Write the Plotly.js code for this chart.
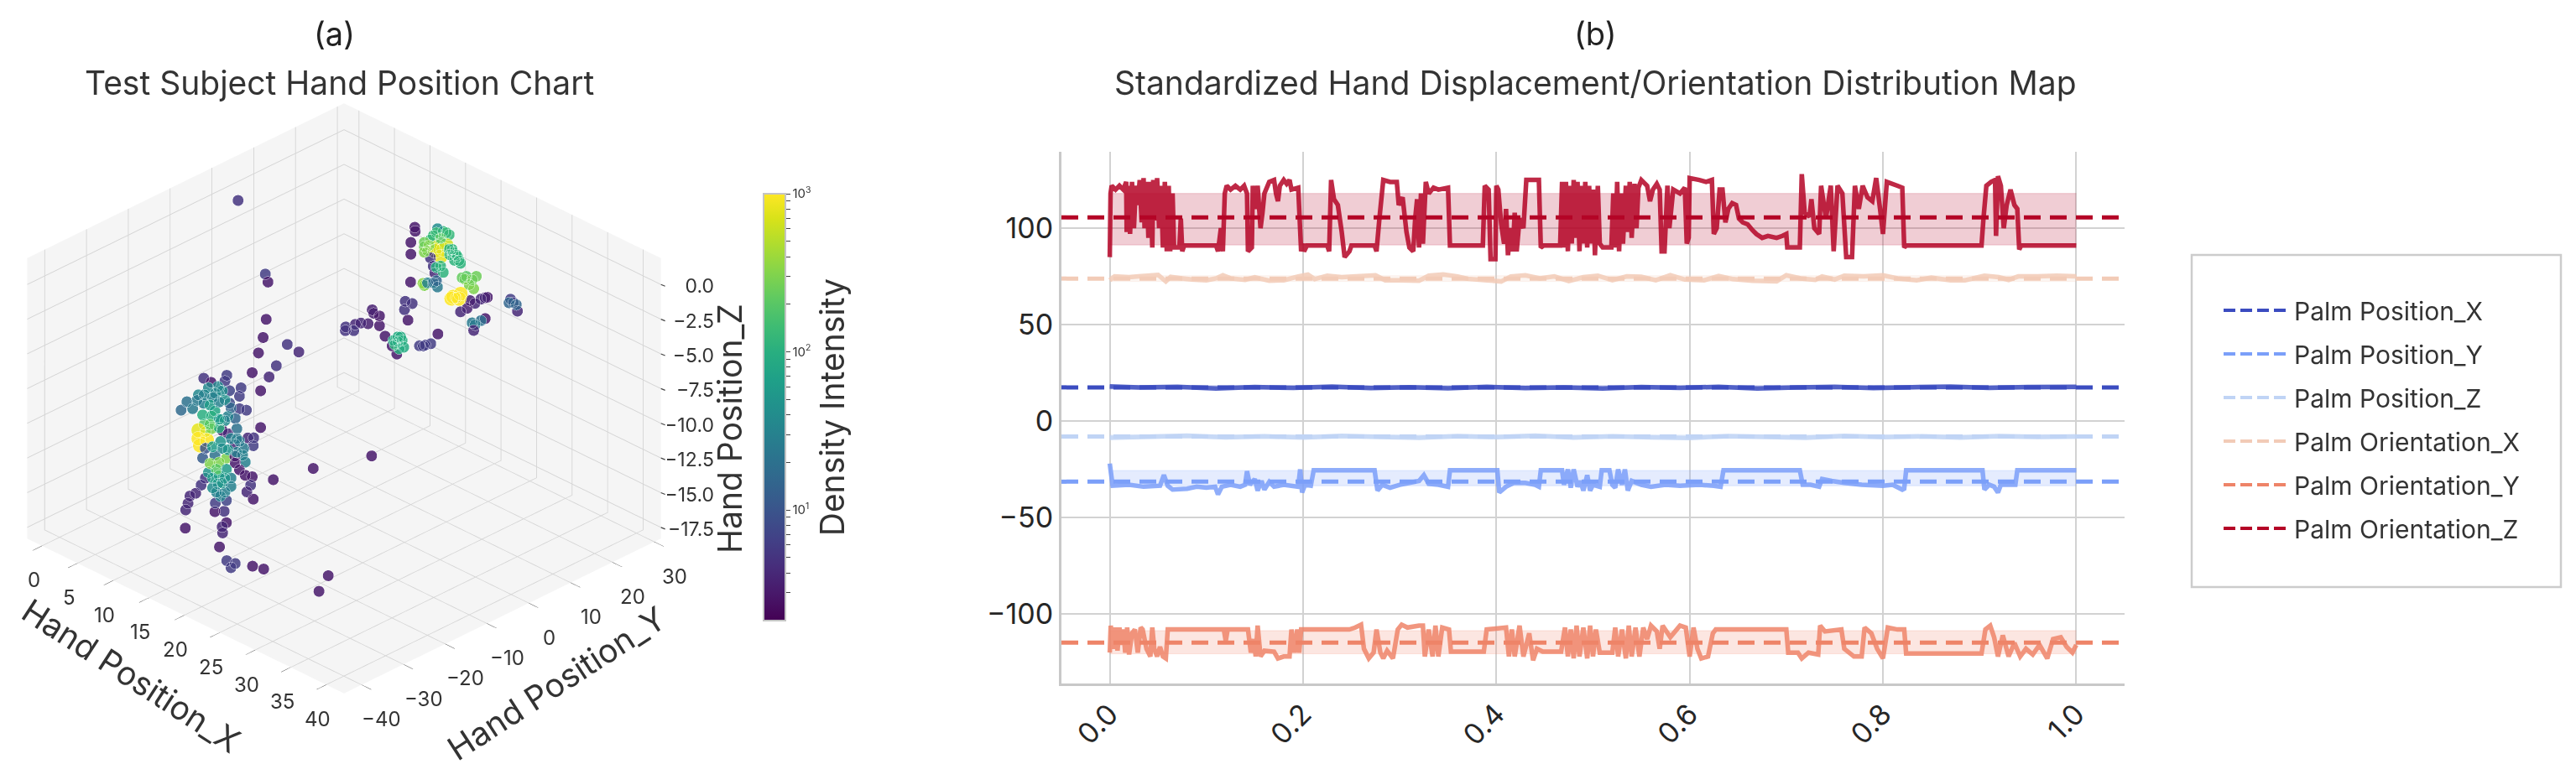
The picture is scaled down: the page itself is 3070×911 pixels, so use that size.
<!DOCTYPE html>
<html><head><meta charset="utf-8">
<script src="https://cdn.plot.ly/plotly-3.0.1.min.js"></script>
<style>html,body{margin:0;padding:0;background:#fff}#c{width:3070px;height:911px}</style></head>
<body><div id="c"></div>
<script>
// ---------- panel (a): [x, y, z, density]
const cloudLeft = [
[18.2,-24.9,-4.1,3],[19.4,-22.9,-4.4,4],[19.9,-22.0,-3.6,5],[18.8,-23.9,-5.4,3],[18.8,-23.9,-8.05,3],
[26.6,-10.6,-10.1,3],[22.5,-17.6,-11.0,3],[19.7,-22.4,-11.8,3],[18.2,-24.9,-11.6,3],[17.7,-25.7,-11.5,3],
[18.1,-25.1,-12.2,5],[17.8,-25.5,-12.7,4],[18.3,-24.8,-13.2,3],[16.1,-28.4,-15.65,4],[16.4,-28.0,-14.9,3],
[16.1,-28.5,-15.2,4],[16.2,-28.2,-14.1,5],[15.6,-29.4,-14.1,3],[15.6,-29.3,-13.5,6],[16.4,-28.0,-13.3,7],
[13.5,-32.9,-15.3,3],[13.5,-32.8,-14.0,4],[13.7,-32.6,-13.5,4],[13.8,-32.3,-13.0,4],[14.2,-31.6,-12.8,4],
[14.6,-31.0,-12.2,5],[14.9,-30.5,-11.7,5],[14.8,-30.7,-4.5,5],[15.3,-29.8,-4.8,3],[16.4,-27.9,-4.3,6],
[16.3,-28.2,-4.7,6],[17.4,-26.2,-5.2,6],[16.6,-27.6,-5.4,7],[17.3,-26.4,-5.8,6],[13.6,-32.7,-6.2,20],
[13.2,-33.4,-6.8,17],[14.0,-32.0,-6.7,25],[14.4,-31.3,-5.7,35],[14.8,-30.6,-5.7,30],[15.6,-29.3,-5.6,35],
[16.1,-28.5,-5.4,40],[14.8,-30.7,-6.3,30],[15.4,-29.6,-5.9,30],[16.6,-27.6,-6.3,8],[17.3,-26.4,-6.7,6],
[17.8,-25.6,-6.8,6],[15.6,-29.4,-6.85,80],[15.3,-29.7,-7.25,100],[16.3,-28.2,-7.55,40],[17.0,-26.9,-7.4,15],
[17.1,-26.7,-8.15,20],[14.8,-30.6,-7.85,200],[15.3,-29.7,-8.15,300],[14.9,-30.4,-8.35,300],[14.4,-31.3,-8.25,800],
[14.4,-31.3,-8.85,1000],[14.5,-31.1,-9.35,1000],[15.0,-30.3,-8.95,1000],[16.1,-28.5,-8.25,3],[16.5,-27.8,-8.5,4],
[17.0,-27.0,-9.25,4],[17.9,-25.4,-8.8,4],[18.3,-24.7,-8.8,5],[18.3,-24.8,-9.35,6],[16.0,-28.7,-9.05,50],
[16.1,-28.5,-9.55,40],[17.6,-25.9,-9.55,25],[17.5,-26.0,-10.05,30],[17.7,-25.7,-10.55,30],[14.9,-30.5,-9.55,10],
[14.7,-30.8,-10.25,12],[15.6,-29.4,-10.05,20],[16.4,-28.0,-10.25,300],[15.9,-28.9,-10.55,300],[17.0,-27.0,-10.1,3],
[17.0,-26.9,-10.6,3],[17.3,-26.4,-11.1,3],[15.1,-30.1,-11.3,50],[15.9,-28.9,-11.5,80],[16.7,-27.4,-11.7,30],
[15.8,-29.0,-12.1,50],[16.3,-28.2,-11.7,50],[15.7,-29.2,-12.7,30],[16.3,-28.2,-12.7,30],[17.1,-26.7,-8.85,25],
[16.0,-28.7,-7.45,40],[15.2,-29.9,-6.45,60],[16.3,-28.2,-6.05,45],
[30.2,-27.1,-15.4,3],[29.6,-28.3,-16.5,3],[25.7,-34.9,-14.9,3],[24.9,-36.2,-14.7,3],[23.7,-38.3,-14.5,6],
[23.4,-38.8,-14.8,6],[23.1,-39.3,-14.3,6],[22.6,-40.2,-13.3,3],
[15.1,-30.1,-5.2,35],[15.8,-29.0,-5.1,35],[14.3,-31.5,-6.1,25],[15.9,-28.9,-6.2,30],[16.7,-27.4,-6.65,15],
[16.5,-27.8,-7.25,30],[15.9,-28.9,-8.05,100],[16.7,-27.4,-8.85,30],[17.3,-26.4,-9.05,25],[15.4,-29.6,-9.45,60],
[16.5,-27.8,-9.65,50],[17.1,-26.7,-9.85,30],[15.2,-29.9,-10.65,300],[15.7,-29.2,-11.05,200],[16.4,-28,-11.05,60],
[15.4,-29.6,-11.7,60],[16.1,-28.5,-12.05,50],[16.7,-27.4,-12.3,30],[15.4,-29.6,-12.4,40],[15.96,-28.7,-13,30],
[14.7,-30.8,-7.15,100],[15.9,-28.9,-7.45,60],[15.2,-29.9,-7.85,200]
];
const cloudLink = [
[3.8,-3.8,1.6,5],[12.4,-11.9,-0.36,6],[12.6,-11.6,-0.93,3],[14.7,-15.6,-2.5,3],[14.5,-16,-3.8,3],[14.2,-16.6,-4.9,3],[16.2,-13.1,-4.3,5],[17,-11.7,-4.85,4]
];
const cloudRight = [
[18.5,13.5,0.8,3],[18.5,13.6,0.5,3],[18.2,13.05,-0.3,3],[18.2,13.05,-1.15,3],[18.2,13.0,-3.15,3],
[15.5,8.4,-5.15,3.5],[15.6,8.6,-5.4,3.5],[16.0,9.3,-5.6,3],[15.2,7.9,-6.15,3.5],[14.7,7.05,-6.1,4],
[14.3,6.4,-6.2,4],[13.6,5.3,-6.4,5],[13.6,5.2,-6.65,5],[14.2,6.2,-6.65,5],[16.0,9.3,-6.3,3],
[16.4,9.95,-7.05,3],[16.9,10.8,-7.75,3],[17.2,11.4,-8.35,3],[20.1,16.3,-6.9,3],[17.8,12.4,-4.55,5],
[18.3,13.2,-4.7,5],[17.75,12.3,-5.15,5],[18.0,12.7,-5.9,3],[17.3,11.5,-7.1,90],[17.4,11.6,-7.95,100],
[17.1,11.1,-7.65,110],[17.7,12.2,-7.85,90],[17.0,10.9,-7.35,90],[17.5,11.8,-7.1,90],[18.8,14.1,-7.75,6],
[19.2,14.8,-7.7,6],[19.6,15.45,-7.6,6],[19.1,14.5,-7.75,6],[25.2,25,-4.4,6],[25.4,25.35,-4.65,6],
[25.7,25.8,-5.25,4],[25.1,24.8,-4.65,15],[25.6,25.7,-4.8,15],[23.6,22.2,-4.25,3],[23.4,22,-4.3,3.5],
[23.1,21.5,-4.4,4],[22.7,20.75,-4.7,4],[22.35,20.15,-4.5,3.5],[22.15,19.8,-5.05,3.5],[21.7,19,-5.3,4],
[21.35,18.5,-4.3,3],[23.4,22,-5.8,3],[23.1,21.5,-5.95,20],[22.5,20.4,-6.1,25],[22.7,20.75,-6.25,25],
[22.6,20.6,-6.65,4],[21.2,18.1,-4.2,1000],[21.7,19,-4.0,1000],[21.05,17.9,-4.35,1000],[21.6,18.8,-4.35,1000],
[22.8,20.9,-2.75,250],[22.1,19.7,-2.75,200],[22.3,20.05,-3.35,300],[22,19.5,-2.95,300],[22.6,20.6,-3.65,300],
[20.9,17.65,0.25,120],[20.5,16.9,0.5,120],[20.1,16.2,0.7,40],[19.8,15.7,0.2,130],[19.6,15.35,-0.1,130],
[20,16.1,0.4,130],[19.15,14.65,-0.6,250],[19.4,15,-0.9,250],[19.15,14.65,-0.3,250],[20.1,16.2,-0.6,600],
[20.5,16.9,-0.8,900],[19.9,15.9,-0.9,700],[20.3,16.6,-1.3,800],[20.7,17.3,-0.5,600],[21.1,18,-0.8,110],
[21.2,18.1,-1.0,110],[21.5,18.6,-1.3,110],[21.7,19,-1.8,110],[20.9,17.75,-1.2,110],[21.25,18.3,-1.6,110],
[19.6,15.35,-1.4,5],[19.8,15.7,-2.0,5],[19.9,15.9,-2.5,4],[20.5,16.9,-2.45,110],[20,16.1,-2.1,100],
[20.3,16.6,-2.0,110],[19.15,14.65,-3.4,300],[19.05,14.5,-3.25,350],[19.4,15,-3.2,30],[19.8,15.7,-3.2,20],
[20.1,16.2,-3.5,25],[20,16.1,-3.05,15],
[20.7,17.3,0.4,130],[20.3,16.6,0,200],[19.5,15.2,-0.5,300],[20.9,17.6,-0.8,110],[21.4,18.5,-1.2,110],
[21.6,18.8,-1.6,110],[19.15,14.65,-1.0,300],[22.5,20.4,-3.0,250],[21.8,19.2,-2.85,230],[17.3,11.5,-7.45,95],[17.6,12,-7.35,95]
];
const densityTicks = [3,4,5,6,7,8,9,10,20,30,40,50,60,70,80,90,100,200,300,400,500,600,700,800,900,1000];
const densityLabels = {10:'10<sup>1</sup>',100:'10<sup>2</sup>',1000:'10<sup>3</sup>'};
const xTicks3d = [0,5,10,15,20,25,30,35,40];
const yTicks3d = [-40,-30,-20,-10,0,10,20,30];
const zTicks3d = [0,-2.5,-5,-7.5,-10,-12.5,-15,-17.5];
const xRange3d = [-2.1,42.5], yRange3d = [-44.2,31.6], zRange3d = [-18.3,1.9];

// ---------- panel (b)
const seriesNames = ['Palm Position_X','Palm Position_Y','Palm Position_Z','Palm Orientation_X','Palm Orientation_Y','Palm Orientation_Z'];
const seriesColors = ['#3b4cc0','#7b9ff9','#c0d4f5','#f2cbb7','#ee8468','#b40426'];
const seriesMeans = [17.5,-31.4,-8,73.9,-114.8,105.6];
const bandLow = [16.6,-33.5,-9,72.4,-120.6,91.3];
const bandHigh = [18.4,-25.6,-7,75.4,-108.6,118];
const xExtent = [-0.05,1.05];
const xSpan = [0,1];

const posX = [[0,18],[.03,17.4],[.07,17.8],[.11,16.9],[.15,17.7],[.19,17.2],[.23,17.9],[.27,17.1],[.31,17.6],[.35,17],[.39,17.8],[.43,17.1],[.47,17.5],[.51,16.9],[.55,17.7],[.59,17.2],[.63,17.8],[.67,16.9],[.71,17.4],[.75,17.8],[.79,17.1],[.83,17.6],[.87,17.9],[.91,17.2],[.95,17.7],[1,17.8]];
const posZ = [[0,-8.6],[.04,-8.1],[.08,-7.6],[.12,-8.4],[.16,-7.9],[.2,-8.5],[.24,-7.7],[.28,-8.2],[.32,-8.6],[.36,-7.8],[.4,-8.3],[.44,-7.6],[.48,-8.5],[.52,-7.9],[.56,-8.4],[.6,-8.7],[.64,-7.8],[.68,-8.2],[.72,-8.6],[.76,-7.7],[.8,-8.3],[.84,-7.9],[.88,-8.5],[.92,-7.8],[.96,-8.2],[1,-8]];
const oriX = [[0,73],[.005,75],[.02,74.6],[.03,75],[.05,75.8],[.058,72.4],[.063,74.8],[.075,74],[.085,73.4],[.1,73],[.11,74],[.117,75.6],[.125,74],[.14,73.2],[.15,74.6],[.165,72.8],[.18,73],[.195,75],[.205,76],[.212,73.6],[.225,75.4],[.24,74.6],[.255,75],[.275,75.6],[.285,73],[.3,73],[.32,72.8],[.33,75.4],[.345,76],[.36,75],[.37,73.8],[.39,73],[.405,72.4],[.415,75],[.43,75.6],[.445,74],[.46,75],[.475,72.6],[.49,74.6],[.505,75.4],[.52,73],[.535,75],[.55,74.8],[.565,73],[.58,75.6],[.595,73.4],[.615,73],[.63,75.2],[.645,73.6],[.665,72.8],[.69,72.5],[.7,75.6],[.715,74],[.73,73.2],[.737,75],[.75,73.4],[.76,75.4],[.78,75],[.8,75.6],[.815,74],[.835,73],[.85,74.4],[.87,73],[.885,73],[.905,75.4],[.92,74.6],[.93,73.2],[.94,75],[.96,75],[.98,75.4],[1,75]];

const posY = [[0,-22],[.001,-26],[.003,-33.5],[.02,-33],[.035,-34],[.052,-33.5],[.056,-28],[.06,-33.5],[.065,-35.5],[.08,-35],[.09,-34],[.1,-34.5],[.109,-34],[.112,-38],[.116,-34],[.125,-33],[.135,-34],[.14,-33],[.142,-26],[.145,-33],[.15,-30],[.153,-36],[.157,-31],[.16,-35.5],[.165,-31.5],[.17,-34],[.18,-33],[.195,-34],[.197,-25],[.199,-37],[.202,-33],[.208,-33.5],[.211,-25.5],[.274,-25.5],[.277,-36],[.282,-33],[.29,-34.5],[.3,-33],[.31,-32],[.32,-31],[.325,-28],[.33,-32.5],[.34,-33],[.35,-34],[.352,-25.5],[.401,-25.5],[.403,-37],[.41,-34],[.418,-32],[.43,-32],[.44,-33],[.444,-34],[.446,-25.5],[.468,-25.5],[.47,-33],[.474,-25],[.477,-34.5],[.48,-25],[.484,-34],[.487,-31],[.49,-36],[.494,-28],[.497,-36],[.5,-33],[.507,-34],[.509,-25.5],[.517,-25.5],[.52,-33],[.523,-34.5],[.526,-25],[.53,-33],[.533,-25],[.536,-36],[.54,-31],[.55,-33],[.56,-34],[.575,-33],[.59,-33.5],[.61,-33],[.625,-33.5],[.632,-34],[.635,-25.5],[.714,-25.5],[.717,-33],[.725,-33],[.734,-34],[.737,-30],[.747,-31],[.76,-32],[.778,-33],[.8,-33.5],[.81,-33],[.82,-35.5],[.822,-35],[.824,-25.5],[.903,-25.5],[.905,-35.5],[.91,-33],[.915,-34],[.919,-37],[.922,-33],[.937,-33],[.939,-25.5],[1,-25.5]];

const oriY = [[0,-120],[.001,-106],[.004,-118],[.006,-107],[.008,-119],[.01,-107],[.012,-116],[.014,-108],[.016,-120],[.018,-107],[.02,-121],[.023,-110],[.026,-108],[.029,-120],[.032,-107],[.034,-108],[.038,-118],[.042,-122],[.044,-107],[.046,-118],[.049,-122],[.052,-117],[.055,-122],[.058,-123],[.06,-108],[.118,-108],[.12,-114],[.122,-108],[.143,-108],[.146,-120],[.149,-113],[.151,-122],[.153,-106],[.156,-122],[.16,-119],[.17,-119.5],[.174,-123],[.18,-122],[.186,-122],[.188,-108],[.191,-120],[.194,-108],[.196,-120],[.198,-108],[.248,-108],[.254,-107],[.26,-105.5],[.263,-118],[.268,-123],[.273,-120],[.276,-108],[.28,-120],[.283,-123],[.287,-119],[.293,-123],[.298,-108],[.302,-105.5],[.308,-107],[.32,-106],[.324,-106],[.326,-122],[.33,-108],[.334,-122],[.337,-106],[.34,-122],[.344,-107],[.351,-108],[.353,-119.5],[.387,-119.5],[.39,-108],[.41,-107],[.413,-122],[.416,-108],[.419,-122],[.424,-106],[.428,-122],[.434,-110],[.438,-124],[.442,-118],[.448,-119.5],[.467,-119.5],[.471,-107],[.474,-122],[.477,-108],[.48,-123],[.483,-106],[.486,-122],[.49,-107],[.494,-123],[.497,-106],[.5,-122],[.503,-108],[.507,-120],[.52,-120],[.523,-107],[.526,-122],[.53,-108],[.534,-123],[.537,-106],[.54,-122],[.544,-107],[.548,-122],[.552,-107],[.556,-113],[.56,-106],[.566,-109],[.569,-118],[.572,-106],[.58,-112],[.59,-106],[.596,-107],[.6,-122],[.604,-107],[.608,-118],[.612,-123],[.619,-122],[.624,-110],[.627,-108],[.7,-108],[.702,-120],[.712,-120],[.716,-123],[.723,-120],[.733,-121],[.735,-106],[.74,-109],[.757,-108],[.76,-118],[.77,-122],[.778,-122],[.781,-107],[.788,-110],[.794,-118],[.8,-123],[.805,-107],[.815,-108],[.822,-108],[.824,-120.5],[.902,-120.5],[.906,-108],[.911,-106],[.915,-112],[.919,-122],[.924,-111],[.93,-122],[.936,-115],[.942,-122],[.948,-118],[.955,-121],[.962,-116],[.97,-123],[.976,-113],[.984,-112],[.99,-117],[.996,-120],[1,-116]];

const oriZ = [[0,85],[.0008,118],[.002,122],[.006,120],[.01,122],[.014,120],[.017,124],[.0175,98],[.019,122],[.021,97],[.023,124],[.025,100],[.027,122],[.029,112],[.031,125],[.033,103],[.035,126],[.036,100],[.038,124],[.04,95],[.042,124],[.044,90],[.045,125],[.047,104],[.049,126],[.051,100],[.053,122],[.055,90],[.057,124],[.059,88],[.061,122],[.0625,88],[.065,118],[.0665,90],[.072,90],[.0735,105],[.075,88],[.077,91],[.11,91],[.112,88],[.115,100],[.117,88],[.119,118],[.121,122],[.125,120],[.13,122],[.135,120],[.139,122],[.142,118],[.143,88],[.147,90],[.148,122],[.151,110],[.153,122],[.156,100],[.158,108],[.16,118],[.165,124],[.17,125],[.172,118],[.174,114],[.176,122],[.18,125],[.183,123],[.186,125],[.188,120],[.195,121],[.198,88],[.2,92],[.201,88],[.204,91],[.225,91],[.227,88],[.229,125],[.232,115],[.236,112],[.24,98],[.243,85],[.248,88],[.25,91],[.274,91],[.276,88],[.279,105],[.283,125],[.29,124],[.297,124],[.299,112],[.303,116],[.307,98],[.31,90],[.314,88],[.316,105],[.318,115],[.32,90],[.322,118],[.324,92],[.327,124],[.33,118],[.335,121],[.34,120],[.35,121],[.352,91],[.38,91],[.386,91],[.388,122],[.392,120],[.394,84],[.399,84],[.4,122],[.402,120],[.405,102],[.408,92],[.41,110],[.412,86],[.415,100],[.417,88],[.419,108],[.421,88],[.424,105],[.428,100],[.431,125],[.44,125],[.444,125],[.446,90],[.449,91],[.466,91],[.468,124],[.47,90],[.472,124],[.474,88],[.476,122],[.478,92],[.48,125],[.482,95],[.484,124],[.486,88],[.488,122],[.49,92],[.492,124],[.494,90],[.496,122],[.498,92],[.5,120],[.502,86],[.505,122],[.507,92],[.51,90],[.519,90],[.521,118],[.523,90],[.525,124],[.527,88],[.529,118],[.531,92],[.534,122],[.536,98],[.538,124],[.54,95],[.543,123],[.545,100],[.547,121],[.55,125],[.556,122],[.559,114],[.562,120],[.566,123],[.569,120],[.571,88],[.574,88],[.577,122],[.579,100],[.583,120],[.59,118],[.595,121],[.597,92],[.599,95],[.6,126],[.61,125],[.617,124],[.623,125],[.625,97],[.628,100],[.631,120],[.634,120],[.637,103],[.64,110],[.644,113],[.648,112],[.651,105],[.655,103],[.66,102],[.665,99],[.669,97],[.675,95],[.681,96],[.69,95],[.696,96],[.7,97],[.701,90],[.714,90],[.716,128],[.719,108],[.724,106],[.726,115],[.729,100],[.734,97],[.736,122],[.741,105],[.746,122],[.749,88],[.753,122],[.758,118],[.762,85],[.768,85],[.771,122],[.775,110],[.779,122],[.784,116],[.789,114],[.793,126],[.797,110],[.8,97],[.804,124],[.815,122],[.82,121],[.822,90],[.824,91],[.902,91],[.904,105],[.907,122],[.912,124],[.916,125],[.917,96],[.919,127],[.922,122],[.925,100],[.928,112],[.932,120],[.936,112],[.939,110],[.941,89],[.943,91],[1,91]];

const seriesData = [posX,posY,posZ,oriX,oriY,oriZ];
const xTicks = [0,0.2,0.4,0.6,0.8,1.0];
const yTicks = [-100,-50,0,50,100];

function rgba(hex,a){const n=parseInt(hex.slice(1),16);return `rgba(${n>>16},${(n>>8)&255},${n&255},${a})`;}
const W=3070,H=911;
const font='Inter, "Noto Sans", sans-serif';
const pts=cloudLeft.concat(cloudLink,cloudRight);
const traces=[];

traces.push({type:'scatter3d',mode:'markers',scene:'scene',showlegend:false,hoverinfo:'skip',
 x:pts.map(p=>p[0]),y:pts.map(p=>p[1]),z:pts.map(p=>p[2]),
 marker:{size:pts.map(p=>p[3]>=500?20:15.5),opacity:0.85,color:pts.map(p=>Math.log10(p[3])),colorscale:'Viridis',cmin:0.3,cmax:3,
  line:{color:'rgba(225,225,225,0.8)',width:1},
  colorbar:{x:910/W,xanchor:'left',xref:'paper',xpad:0,ypad:0,y:1-231/H,yanchor:'top',yref:'paper',len:509,lenmode:'pixels',thickness:26,thicknessmode:'pixels',
   outlinecolor:'#c4c4c4',outlinewidth:2,ticks:'outside',ticklen:5,tickcolor:'#444',tickwidth:1,
   tickmode:'array',tickvals:densityTicks.map(v=>Math.log10(v)),ticktext:densityTicks.map(v=>densityLabels[v]||''),
   tickfont:{size:15,color:'#333',family:font},
   title:{text:'Density Intensity',side:'right',font:{size:39,color:'#333',family:font}}}}});

seriesData.forEach((s,i)=>{
 traces.push({type:'scatter',x:xSpan,y:[bandLow[i],bandLow[i]],mode:'lines',line:{width:1,color:rgba(seriesColors[i],0.2)},showlegend:false,hoverinfo:'skip'});
 traces.push({type:'scatter',x:xSpan,y:[bandHigh[i],bandHigh[i]],mode:'lines',fill:'tonexty',fillcolor:rgba(seriesColors[i],0.2),line:{width:1,color:rgba(seriesColors[i],0.2)},showlegend:false,hoverinfo:'skip'});
});
seriesData.forEach((s,i)=>{
 traces.push({type:'scatter',x:s.map(p=>p[0]),y:s.map(p=>p[1]),mode:'lines',line:{width:5.5,color:rgba(seriesColors[i],0.85),simplify:false},showlegend:false,hoverinfo:'skip'});
});
seriesData.forEach((s,i)=>{
 traces.push({type:'scatter',x:xExtent,y:[seriesMeans[i],seriesMeans[i]],mode:'lines',line:{width:5,color:seriesColors[i],dash:'20px,11px'},showlegend:false,hoverinfo:'skip'});
});
seriesNames.forEach((n,i)=>{
 traces.push({type:'scatter',x:[null],y:[null],mode:'lines',name:n,legendgroup:n,line:{width:4,color:seriesColors[i],dash:'14px,6px,14px,6px,14px,6px,14px,60px'}});
});

const axis3d=(range,dtick,fmt,hasTicks)=>({title:{text:''},range,dtick,tickmode:'linear',tickformat:fmt,showticklabels:false,
 showbackground:true,backgroundcolor:'#f5f5f5',gridcolor:'#d4d4d4',gridwidth:2,
 zeroline:false,showline:false,showspikes:false,ticks:hasTicks?'outside':'',ticklen:16,tickcolor:'#444',linecolor:'#ccc'});
const tickFont={size:24,color:'#333',family:font};
const zFont={size:23,color:'#333',family:font};
const sceneLabels=[
 ...xTicks3d.map(x=>({x,y:yRange3d[0],z:zRange3d[0],text:String(x),showarrow:false,xshift:-10,yshift:-41,font:tickFont})),
 ...yTicks3d.map(y=>({x:xRange3d[1],y,z:zRange3d[0],text:String(y).replace('-','\u2212'),showarrow:false,xshift:24,yshift:-41,font:tickFont})),
 ...zTicks3d.map(z=>({x:xRange3d[1],y:yRange3d[1],z,text:z.toFixed(1).replace('-','\u2212'),showarrow:true,arrowhead:0,arrowwidth:1.2,arrowcolor:'#444',
  ax:5,ay:2,xanchor:'left',yanchor:'middle',width:56,align:'right',font:zFont}))
];
const titleNote=(text,x,y,textangle,size)=>({text,x:x/W,y:1-y/H,xref:'paper',yref:'paper',xanchor:'center',yanchor:'middle',showarrow:false,textangle,font:{size,color:'#333',family:font}});

const layout={width:W,height:H,paper_bgcolor:'#fff',plot_bgcolor:'#fff',margin:{l:0,r:0,t:0,b:0},font:{family:font,color:'#333'},
 showlegend:true,
 legend:{x:2645/W,xanchor:'left',y:1-344/H,yanchor:'top',font:{size:30,color:'#333',family:font},itemwidth:79,traceorder:'grouped',tracegroupgap:10,bgcolor:'rgba(0,0,0,0)',borderwidth:0},
 scene:{domain:{x:[0,820/W],y:[0,1-39/H]},aspectmode:'manual',aspectratio:{x:1.225,y:1.225,z:0.879},
  camera:{eye:{x:6.17,y:-6.17,z:4.89},center:{x:0,y:0,z:0},up:{x:0,y:0,z:1},projection:{type:'orthographic'}},
  xaxis:axis3d(xRange3d,5,'d',true),
  yaxis:axis3d(yRange3d,10,'d',true),
  zaxis:axis3d(zRange3d,2.5,'.1f',false),
  annotations:sceneLabels},
 xaxis:{domain:[1265/W,2532/W],range:xExtent,tickvals:xTicks,ticktext:xTicks.map(v=>v.toFixed(1)),tickangle:-45,tickfont:{size:34,color:'#262626',family:font},
  gridcolor:'#d2d2d2',gridwidth:2,showline:true,linecolor:'#c8c8c8',linewidth:3,ticks:'',zeroline:false,anchor:'y'},
 yaxis:{domain:[1-815/H,1-181/H],range:[-136,139.6],tickvals:yTicks,ticktext:yTicks.map(v=>String(v).replace('-','\u2212')),tickfont:{size:34,color:'#262626',family:font},
  gridcolor:'#d2d2d2',gridwidth:2,showline:true,linecolor:'#c8c8c8',linewidth:3,ticks:'',zeroline:false,anchor:'x'},
 shapes:[{type:'rect',xref:'paper',yref:'paper',x0:2612/W,x1:3052/W,y0:1-304/H,y1:1-700/H,line:{color:'#cccccc',width:2.5},fillcolor:'rgba(0,0,0,0)'}],
 annotations:[
  {text:'(a)',x:398/W,y:1-40/H,xref:'paper',yref:'paper',xanchor:'center',yanchor:'middle',showarrow:false,font:{size:38,color:'#222',family:font}},
  {text:'Test Subject Hand Position Chart',x:404/W,y:1-98/H,xref:'paper',yref:'paper',xanchor:'center',yanchor:'middle',showarrow:false,font:{size:39,color:'#333',family:font}},
  {text:'(b)',x:1901/W,y:1-40/H,xref:'paper',yref:'paper',xanchor:'center',yanchor:'middle',showarrow:false,font:{size:38,color:'#222',family:font}},
  {text:'Standardized Hand Displacement/Orientation Distribution Map',x:1901/W,y:1-98/H,xref:'paper',yref:'paper',xanchor:'center',yanchor:'middle',showarrow:false,font:{size:39,color:'#333',family:font}},
  titleNote('Hand Position_X',157,805,33,39),
  titleNote('Hand Position_Y',663,814,-33,39),
  titleNote('Hand Position_Z',869,511,-90,39)
 ]};
Plotly.newPlot('c',traces,layout,{displayModeBar:false});
</script></body></html>
